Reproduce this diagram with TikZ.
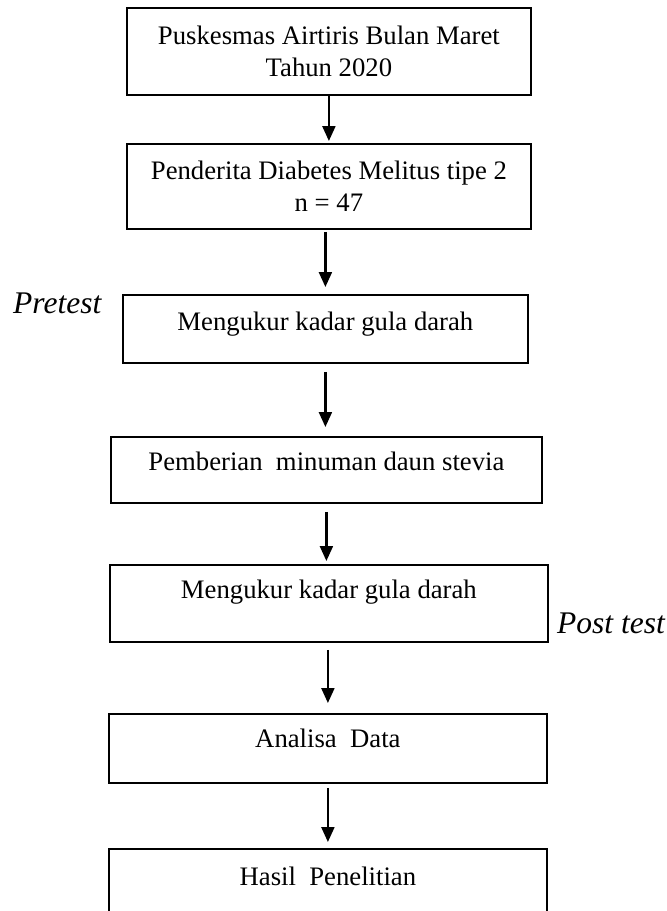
\documentclass[tikz,border=0pt]{standalone}
\usepackage{fontspec}
\setmainfont{Liberation Serif}
\usetikzlibrary{arrows.meta}
\begin{document}
\begin{tikzpicture}[x=1pt,y=-1pt,
  box/.style={draw=black, line width=1.8pt, rectangle, inner xsep=0pt, inner ysep=0pt,
    anchor=north west, font=\fontsize{26.7}{31.5}\selectfont},
  mbox/.style={box, align=center},
  arr/.style={line width=2.2pt, -{Triangle[length=15pt,width=13pt]}},
  lab/.style={font=\fontsize{31.5}{36}\selectfont\itshape, anchor=base west, inner sep=0pt}]
\useasboundingbox (0,0) rectangle (667,911);
\clip (0,0) rectangle (667,911);
% boxes
\node[mbox, minimum width=404pt, minimum height=87pt] (b1) at (126,7)
  {Puskesmas Airtiris Bulan Maret\\Tahun 2020};
\node[mbox, minimum width=404pt, minimum height=85pt] (b2) at (126,143)
  {Penderita Diabetes Melitus tipe 2\\n = 47};
\node[box, minimum width=405pt, text height=36pt, text depth=32pt] (b3) at (122,294)
  {Mengukur kadar gula darah};
\node[box, minimum width=431pt, text height=34pt, text depth=32pt] (b4) at (110,436)
  {Pemberian~ minuman daun stevia};
\node[box, minimum width=438pt, text height=34pt, text depth=43pt] (b5) at (109,564)
  {Mengukur kadar gula darah};
\node[box, minimum width=438pt, text height=34pt, text depth=35pt] (b6) at (108,713)
  {Analisa~ Data};
\node[box, minimum width=438pt, text height=37pt, text depth=45pt] (b7) at (108,848)
  {Hasil~ Penelitian};
% side labels
\node[lab] (pre) at (13,313) {Pretest};
\node[lab] (post) at (557,633) {Post test};
% arrows
\draw[arr, shorten >=2pt] (b1.south) -- (b2.north);
\draw[arr, shorten <=2pt, shorten >=7pt] (b2.south -| b3.north) -- (b3.north);
\draw[arr, shorten <=8pt, shorten >=9pt] (b3.south) -- (b3.south |- b4.north);
\draw[arr, shorten <=8pt, shorten >=3pt] (b4.south) -- (b4.south |- b5.north);
\draw[arr, shorten <=7pt, shorten >=10pt] (b6.north |- b5.south) -- (b6.north);
\draw[arr, shorten <=4pt, shorten >=6pt] (b6.south) -- (b6.south |- b7.north);
\end{tikzpicture}
\end{document}
